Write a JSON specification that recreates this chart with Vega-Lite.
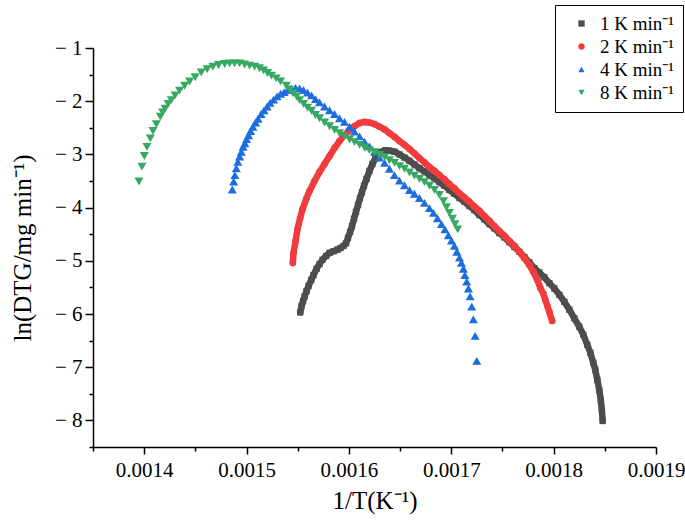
{
  "$schema": "https://vega.github.io/schema/vega-lite/v6.json",
  "width": 563,
  "height": 399,
  "autosize": {"type": "none"},
  "padding": {"left": 93, "top": 48, "right": 29, "bottom": 73},
  "background": "white",
  "data": {"values": [
    {"rate":1,"x":0.0015525,"y":-5.97},{"rate":1,"x":0.0015537,"y":-5.85},{"rate":1,"x":0.0015552,"y":-5.76},{"rate":1,"x":0.0015567,"y":-5.67},{"rate":1,"x":0.0015586,"y":-5.57},{"rate":1,"x":0.0015606,"y":-5.47},{"rate":1,"x":0.0015632,"y":-5.36},{"rate":1,"x":0.0015654,"y":-5.27},{"rate":1,"x":0.0015684,"y":-5.15},{"rate":1,"x":0.0015713,"y":-5.06},{"rate":1,"x":0.0015742,"y":-4.98},{"rate":1,"x":0.0015777,"y":-4.91},{"rate":1,"x":0.0015811,"y":-4.85},{"rate":1,"x":0.001585,"y":-4.82},{"rate":1,"x":0.0015889,"y":-4.79},{"rate":1,"x":0.0015918,"y":-4.76},{"rate":1,"x":0.0015947,"y":-4.72},{"rate":1,"x":0.0015972,"y":-4.67},{"rate":1,"x":0.0015991,"y":-4.57},{"rate":1,"x":0.0016011,"y":-4.46},{"rate":1,"x":0.001603,"y":-4.35},{"rate":1,"x":0.001605,"y":-4.21},{"rate":1,"x":0.0016069,"y":-4.08},{"rate":1,"x":0.0016089,"y":-3.95},{"rate":1,"x":0.0016108,"y":-3.82},{"rate":1,"x":0.0016128,"y":-3.71},{"rate":1,"x":0.0016147,"y":-3.59},{"rate":1,"x":0.0016172,"y":-3.46},{"rate":1,"x":0.0016201,"y":-3.31},{"rate":1,"x":0.001623,"y":-3.18},{"rate":1,"x":0.001626,"y":-3.07},{"rate":1,"x":0.0016289,"y":-2.99},{"rate":1,"x":0.0016318,"y":-2.95},{"rate":1,"x":0.0016357,"y":-2.92},{"rate":1,"x":0.0016396,"y":-2.93},{"rate":1,"x":0.0016445,"y":-2.95},{"rate":1,"x":0.0016494,"y":-3.0},{"rate":1,"x":0.0016543,"y":-3.06},{"rate":1,"x":0.0016592,"y":-3.12},{"rate":1,"x":0.001664,"y":-3.19},{"rate":1,"x":0.0016689,"y":-3.26},{"rate":1,"x":0.0016738,"y":-3.32},{"rate":1,"x":0.0016787,"y":-3.39},{"rate":1,"x":0.0016836,"y":-3.45},{"rate":1,"x":0.0016884,"y":-3.52},{"rate":1,"x":0.0016933,"y":-3.59},{"rate":1,"x":0.0016982,"y":-3.67},{"rate":1,"x":0.0017031,"y":-3.74},{"rate":1,"x":0.001708,"y":-3.82},{"rate":1,"x":0.0017129,"y":-3.89},{"rate":1,"x":0.0017177,"y":-3.97},{"rate":1,"x":0.0017226,"y":-4.05},{"rate":1,"x":0.0017275,"y":-4.14},{"rate":1,"x":0.0017324,"y":-4.22},{"rate":1,"x":0.0017373,"y":-4.31},{"rate":1,"x":0.0017421,"y":-4.39},{"rate":1,"x":0.001747,"y":-4.48},{"rate":1,"x":0.0017519,"y":-4.56},{"rate":1,"x":0.0017568,"y":-4.65},{"rate":1,"x":0.0017617,"y":-4.74},{"rate":1,"x":0.0017665,"y":-4.83},{"rate":1,"x":0.0017714,"y":-4.93},{"rate":1,"x":0.0017763,"y":-5.03},{"rate":1,"x":0.0017812,"y":-5.14},{"rate":1,"x":0.0017861,"y":-5.22},{"rate":1,"x":0.0017909,"y":-5.31},{"rate":1,"x":0.0017958,"y":-5.42},{"rate":1,"x":0.0018007,"y":-5.52},{"rate":1,"x":0.0018056,"y":-5.64},{"rate":1,"x":0.0018105,"y":-5.77},{"rate":1,"x":0.0018154,"y":-5.92},{"rate":1,"x":0.0018202,"y":-6.08},{"rate":1,"x":0.0018251,"y":-6.24},{"rate":1,"x":0.001829,"y":-6.39},{"rate":1,"x":0.0018329,"y":-6.58},{"rate":1,"x":0.0018359,"y":-6.73},{"rate":1,"x":0.0018388,"y":-6.92},{"rate":1,"x":0.0018407,"y":-7.05},{"rate":1,"x":0.0018427,"y":-7.24},{"rate":1,"x":0.0018446,"y":-7.43},{"rate":1,"x":0.0018461,"y":-7.62},{"rate":1,"x":0.0018471,"y":-7.8},{"rate":1,"x":0.0018479,"y":-8.01},
    {"rate":2,"x":0.0015452,"y":-5.04},{"rate":2,"x":0.0015459,"y":-4.85},{"rate":2,"x":0.0015479,"y":-4.63},{"rate":2,"x":0.0015498,"y":-4.4},{"rate":2,"x":0.0015523,"y":-4.2},{"rate":2,"x":0.0015547,"y":-4.03},{"rate":2,"x":0.0015583,"y":-3.84},{"rate":2,"x":0.0015615,"y":-3.69},{"rate":2,"x":0.0015664,"y":-3.5},{"rate":2,"x":0.0015713,"y":-3.33},{"rate":2,"x":0.0015762,"y":-3.18},{"rate":2,"x":0.0015811,"y":-3.03},{"rate":2,"x":0.001586,"y":-2.88},{"rate":2,"x":0.0015908,"y":-2.75},{"rate":2,"x":0.0015957,"y":-2.64},{"rate":2,"x":0.0016006,"y":-2.54},{"rate":2,"x":0.0016055,"y":-2.47},{"rate":2,"x":0.0016104,"y":-2.41},{"rate":2,"x":0.0016152,"y":-2.39},{"rate":2,"x":0.0016201,"y":-2.4},{"rate":2,"x":0.001625,"y":-2.43},{"rate":2,"x":0.0016299,"y":-2.48},{"rate":2,"x":0.0016348,"y":-2.53},{"rate":2,"x":0.0016396,"y":-2.6},{"rate":2,"x":0.0016445,"y":-2.67},{"rate":2,"x":0.0016494,"y":-2.75},{"rate":2,"x":0.0016543,"y":-2.82},{"rate":2,"x":0.0016592,"y":-2.9},{"rate":2,"x":0.001664,"y":-2.98},{"rate":2,"x":0.0016689,"y":-3.07},{"rate":2,"x":0.0016738,"y":-3.15},{"rate":2,"x":0.0016787,"y":-3.24},{"rate":2,"x":0.0016836,"y":-3.31},{"rate":2,"x":0.0016884,"y":-3.39},{"rate":2,"x":0.0016933,"y":-3.47},{"rate":2,"x":0.0016982,"y":-3.56},{"rate":2,"x":0.0017031,"y":-3.64},{"rate":2,"x":0.001708,"y":-3.73},{"rate":2,"x":0.0017129,"y":-3.81},{"rate":2,"x":0.0017177,"y":-3.89},{"rate":2,"x":0.0017226,"y":-3.98},{"rate":2,"x":0.0017275,"y":-4.06},{"rate":2,"x":0.0017324,"y":-4.16},{"rate":2,"x":0.0017373,"y":-4.25},{"rate":2,"x":0.0017421,"y":-4.35},{"rate":2,"x":0.001747,"y":-4.44},{"rate":2,"x":0.0017519,"y":-4.53},{"rate":2,"x":0.0017568,"y":-4.63},{"rate":2,"x":0.0017617,"y":-4.72},{"rate":2,"x":0.0017665,"y":-4.83},{"rate":2,"x":0.0017714,"y":-4.95},{"rate":2,"x":0.0017763,"y":-5.08},{"rate":2,"x":0.0017802,"y":-5.21},{"rate":2,"x":0.0017841,"y":-5.36},{"rate":2,"x":0.001787,"y":-5.51},{"rate":2,"x":0.00179,"y":-5.62},{"rate":2,"x":0.0017919,"y":-5.74},{"rate":2,"x":0.0017939,"y":-5.85},{"rate":2,"x":0.0017958,"y":-5.96},{"rate":2,"x":0.0017985,"y":-6.13},
    {"rate":4,"x":0.0014861,"y":-3.66},{"rate":4,"x":0.0014874,"y":-3.51},{"rate":4,"x":0.0014886,"y":-3.39},{"rate":4,"x":0.00149,"y":-3.26},{"rate":4,"x":0.0014915,"y":-3.14},{"rate":4,"x":0.0014932,"y":-3.04},{"rate":4,"x":0.0014949,"y":-2.95},{"rate":4,"x":0.0014966,"y":-2.86},{"rate":4,"x":0.0014984,"y":-2.79},{"rate":4,"x":0.0015,"y":-2.71},{"rate":4,"x":0.001502,"y":-2.64},{"rate":4,"x":0.0015039,"y":-2.56},{"rate":4,"x":0.0015062,"y":-2.48},{"rate":4,"x":0.0015088,"y":-2.4},{"rate":4,"x":0.0015113,"y":-2.33},{"rate":4,"x":0.0015142,"y":-2.24},{"rate":4,"x":0.0015171,"y":-2.17},{"rate":4,"x":0.0015201,"y":-2.1},{"rate":4,"x":0.001523,"y":-2.03},{"rate":4,"x":0.0015264,"y":-1.97},{"rate":4,"x":0.0015298,"y":-1.91},{"rate":4,"x":0.0015332,"y":-1.86},{"rate":4,"x":0.0015367,"y":-1.83},{"rate":4,"x":0.0015401,"y":-1.79},{"rate":4,"x":0.001544,"y":-1.77},{"rate":4,"x":0.0015479,"y":-1.75},{"rate":4,"x":0.0015518,"y":-1.76},{"rate":4,"x":0.0015557,"y":-1.79},{"rate":4,"x":0.0015596,"y":-1.84},{"rate":4,"x":0.0015635,"y":-1.89},{"rate":4,"x":0.0015674,"y":-1.96},{"rate":4,"x":0.0015713,"y":-2.02},{"rate":4,"x":0.0015762,"y":-2.1},{"rate":4,"x":0.0015811,"y":-2.17},{"rate":4,"x":0.001586,"y":-2.24},{"rate":4,"x":0.0015908,"y":-2.32},{"rate":4,"x":0.0015957,"y":-2.39},{"rate":4,"x":0.0016006,"y":-2.48},{"rate":4,"x":0.0016055,"y":-2.57},{"rate":4,"x":0.0016104,"y":-2.66},{"rate":4,"x":0.0016152,"y":-2.76},{"rate":4,"x":0.0016201,"y":-2.85},{"rate":4,"x":0.001625,"y":-2.95},{"rate":4,"x":0.0016299,"y":-3.06},{"rate":4,"x":0.0016348,"y":-3.16},{"rate":4,"x":0.0016396,"y":-3.27},{"rate":4,"x":0.0016445,"y":-3.39},{"rate":4,"x":0.0016494,"y":-3.49},{"rate":4,"x":0.0016543,"y":-3.58},{"rate":4,"x":0.0016592,"y":-3.67},{"rate":4,"x":0.001664,"y":-3.74},{"rate":4,"x":0.0016689,"y":-3.82},{"rate":4,"x":0.0016738,"y":-3.91},{"rate":4,"x":0.0016787,"y":-4.01},{"rate":4,"x":0.0016826,"y":-4.1},{"rate":4,"x":0.0016865,"y":-4.2},{"rate":4,"x":0.0016904,"y":-4.31},{"rate":4,"x":0.0016938,"y":-4.41},{"rate":4,"x":0.0016972,"y":-4.52},{"rate":4,"x":0.0017002,"y":-4.62},{"rate":4,"x":0.0017031,"y":-4.72},{"rate":4,"x":0.0017055,"y":-4.83},{"rate":4,"x":0.001708,"y":-4.94},{"rate":4,"x":0.0017099,"y":-5.04},{"rate":4,"x":0.0017119,"y":-5.15},{"rate":4,"x":0.0017133,"y":-5.27},{"rate":4,"x":0.0017151,"y":-5.39},{"rate":4,"x":0.0017168,"y":-5.52},{"rate":4,"x":0.0017184,"y":-5.67},{"rate":4,"x":0.00172,"y":-5.86},{"rate":4,"x":0.0017216,"y":-6.1},{"rate":4,"x":0.0017233,"y":-6.41},{"rate":4,"x":0.0017249,"y":-6.88},
    {"rate":8,"x":0.0013949,"y":-3.51},{"rate":8,"x":0.0013978,"y":-3.23},{"rate":8,"x":0.0014002,"y":-3.03},{"rate":8,"x":0.0014027,"y":-2.86},{"rate":8,"x":0.001406,"y":-2.7},{"rate":8,"x":0.0014086,"y":-2.56},{"rate":8,"x":0.0014119,"y":-2.43},{"rate":8,"x":0.0014158,"y":-2.29},{"rate":8,"x":0.001418,"y":-2.21},{"rate":8,"x":0.0014205,"y":-2.14},{"rate":8,"x":0.0014234,"y":-2.05},{"rate":8,"x":0.0014265,"y":-1.98},{"rate":8,"x":0.0014302,"y":-1.89},{"rate":8,"x":0.0014346,"y":-1.8},{"rate":8,"x":0.0014395,"y":-1.71},{"rate":8,"x":0.0014444,"y":-1.63},{"rate":8,"x":0.0014498,"y":-1.55},{"rate":8,"x":0.0014558,"y":-1.46},{"rate":8,"x":0.0014615,"y":-1.4},{"rate":8,"x":0.0014671,"y":-1.35},{"rate":8,"x":0.0014727,"y":-1.32},{"rate":8,"x":0.0014786,"y":-1.3},{"rate":8,"x":0.0014834,"y":-1.29},{"rate":8,"x":0.0014883,"y":-1.29},{"rate":8,"x":0.0014932,"y":-1.29},{"rate":8,"x":0.0014981,"y":-1.31},{"rate":8,"x":0.001503,"y":-1.33},{"rate":8,"x":0.0015079,"y":-1.35},{"rate":8,"x":0.0015127,"y":-1.38},{"rate":8,"x":0.0015166,"y":-1.42},{"rate":8,"x":0.0015205,"y":-1.47},{"rate":8,"x":0.0015244,"y":-1.52},{"rate":8,"x":0.001529,"y":-1.57},{"rate":8,"x":0.0015332,"y":-1.63},{"rate":8,"x":0.0015388,"y":-1.71},{"rate":8,"x":0.001542,"y":-1.78},{"rate":8,"x":0.0015454,"y":-1.85},{"rate":8,"x":0.0015489,"y":-1.91},{"rate":8,"x":0.0015518,"y":-1.98},{"rate":8,"x":0.0015557,"y":-2.05},{"rate":8,"x":0.0015596,"y":-2.12},{"rate":8,"x":0.0015635,"y":-2.18},{"rate":8,"x":0.0015674,"y":-2.26},{"rate":8,"x":0.0015713,"y":-2.32},{"rate":8,"x":0.0015762,"y":-2.4},{"rate":8,"x":0.0015811,"y":-2.47},{"rate":8,"x":0.001586,"y":-2.54},{"rate":8,"x":0.0015908,"y":-2.6},{"rate":8,"x":0.0015957,"y":-2.66},{"rate":8,"x":0.0016006,"y":-2.72},{"rate":8,"x":0.0016055,"y":-2.77},{"rate":8,"x":0.0016104,"y":-2.82},{"rate":8,"x":0.0016152,"y":-2.87},{"rate":8,"x":0.0016201,"y":-2.92},{"rate":8,"x":0.001625,"y":-2.96},{"rate":8,"x":0.0016299,"y":-3.01},{"rate":8,"x":0.0016348,"y":-3.05},{"rate":8,"x":0.0016396,"y":-3.11},{"rate":8,"x":0.0016445,"y":-3.16},{"rate":8,"x":0.0016494,"y":-3.22},{"rate":8,"x":0.0016543,"y":-3.27},{"rate":8,"x":0.0016592,"y":-3.34},{"rate":8,"x":0.001664,"y":-3.4},{"rate":8,"x":0.0016689,"y":-3.46},{"rate":8,"x":0.0016738,"y":-3.52},{"rate":8,"x":0.0016787,"y":-3.59},{"rate":8,"x":0.0016836,"y":-3.67},{"rate":8,"x":0.0016884,"y":-3.76},{"rate":8,"x":0.0016924,"y":-3.88},{"rate":8,"x":0.0016953,"y":-3.99},{"rate":8,"x":0.0016982,"y":-4.1},{"rate":8,"x":0.0017011,"y":-4.21},{"rate":8,"x":0.0017036,"y":-4.31},{"rate":8,"x":0.0017063,"y":-4.41}
  ]},
  "encoding": {
    "x": {
      "field": "x", "type": "quantitative",
      "scale": {"domain": [0.00135, 0.0019], "nice": false, "zero": false},
      "axis": {
        "title": "1/T(K⁻¹)",
        "values": [0.00135, 0.0014, 0.00145, 0.0015, 0.00155, 0.0016, 0.00165, 0.0017, 0.00175, 0.0018, 0.00185, 0.0019],
        "labelExpr": "abs(datum.value*10000 - round(datum.value*10000)) < 0.01 ? format(datum.value, '.4f') : ''",
        "tickSize": {"condition": {"test": "abs(datum.value*10000 - round(datum.value*10000)) < 0.01", "value": 7}, "value": 4},
        "labelPadding": 5,
        "titlePadding": 8
      }
    },
    "y": {
      "field": "y", "type": "quantitative",
      "scale": {"domain": [-8.5, -1], "nice": false, "zero": false},
      "axis": {
        "title": "ln(DTG/mg min⁻¹)",
        "values": [-8.5, -8, -7.5, -7, -6.5, -6, -5.5, -5, -4.5, -4, -3.5, -3, -2.5, -2, -1.5, -1],
        "labelExpr": "datum.value == round(datum.value) ? '− ' + abs(datum.value) : ''",
        "tickSize": {"condition": {"test": "datum.value == round(datum.value)", "value": 8}, "value": 4},
        "labelPadding": 3,
        "titlePadding": 19
      }
    }
  },
  "layer": [
    {
      "transform": [{"filter": "datum.rate == 1"}],
      "mark": {"type": "line", "color": "#4d4d4d", "strokeWidth": 6.5, "strokeCap": "round", "strokeJoin": "round"},
      "encoding": {}
    },
    {
      "transform": [{"filter": "datum.rate == 1"}],
      "mark": {"type": "point", "filled": true, "opacity": 1, "size": 40},
      "encoding": {
        "color": {"field": "rate", "type": "nominal", "scale": {"domain": [1, 2, 4, 8], "range": ["#4d4d4d", "#f23b3d", "#1c6de0", "#36a862"]}, "legend": {"title": null, "labelExpr": "datum.label + ' K min⁻¹'"}},
        "shape": {"field": "rate", "type": "nominal", "scale": {"domain": [1, 2, 4, 8], "range": ["square", "circle", "triangle-up", "triangle-down"]}, "legend": {"title": null, "labelExpr": "datum.label + ' K min⁻¹'"}}
      }
    },
    {
      "transform": [{"filter": "datum.rate == 2"}],
      "mark": {"type": "line", "color": "#f23b3d", "strokeWidth": 6.5, "strokeCap": "round", "strokeJoin": "round"},
      "encoding": {}
    },
    {
      "transform": [{"filter": "datum.rate == 2"}],
      "mark": {"type": "point", "filled": true, "opacity": 1, "size": 45},
      "encoding": {
        "color": {"field": "rate", "type": "nominal", "scale": {"domain": [1, 2, 4, 8], "range": ["#4d4d4d", "#f23b3d", "#1c6de0", "#36a862"]}, "legend": {"title": null, "labelExpr": "datum.label + ' K min⁻¹'"}},
        "shape": {"field": "rate", "type": "nominal", "scale": {"domain": [1, 2, 4, 8], "range": ["square", "circle", "triangle-up", "triangle-down"]}, "legend": {"title": null, "labelExpr": "datum.label + ' K min⁻¹'"}}
      }
    },
    {
      "transform": [{"filter": "datum.rate >= 4"}],
      "mark": {"type": "point", "filled": true, "opacity": 1, "size": 82},
      "encoding": {
        "color": {"field": "rate", "type": "nominal", "scale": {"domain": [1, 2, 4, 8], "range": ["#4d4d4d", "#f23b3d", "#1c6de0", "#36a862"]}, "legend": {"title": null, "labelExpr": "datum.label + ' K min⁻¹'"}},
        "shape": {"field": "rate", "type": "nominal", "scale": {"domain": [1, 2, 4, 8], "range": ["square", "circle", "triangle-up", "triangle-down"]}, "legend": {"title": null, "labelExpr": "datum.label + ' K min⁻¹'"}}
      }
    }
  ],
  "config": {
    "view": {"stroke": null},
    "font": "Liberation Serif",
    "axis": {
      "grid": false,
      "domainColor": "black", "domainWidth": 1.5,
      "tickColor": "black", "tickWidth": 1.5,
      "labelFont": "Liberation Serif", "labelFontSize": 21, "labelColor": "black",
      "labelFlush": false, "labelOverlap": false,
      "titleFont": "Liberation Serif", "titleFontSize": 25, "titleFontWeight": "normal", "titleColor": "black"
    },
    "legend": {
      "orient": "none", "legendX": 462, "legendY": -43,
      "strokeColor": "black", "strokeWidth": 1, "fillColor": "white",
      "padding": 9, "cornerRadius": 0,
      "labelFont": "Liberation Serif", "labelFontSize": 19, "labelColor": "black",
      "symbolSize": 40, "symbolStrokeWidth": 0, "rowPadding": 3,
      "labelOffset": 9, "symbolOffset": 8
    }
  }
}
